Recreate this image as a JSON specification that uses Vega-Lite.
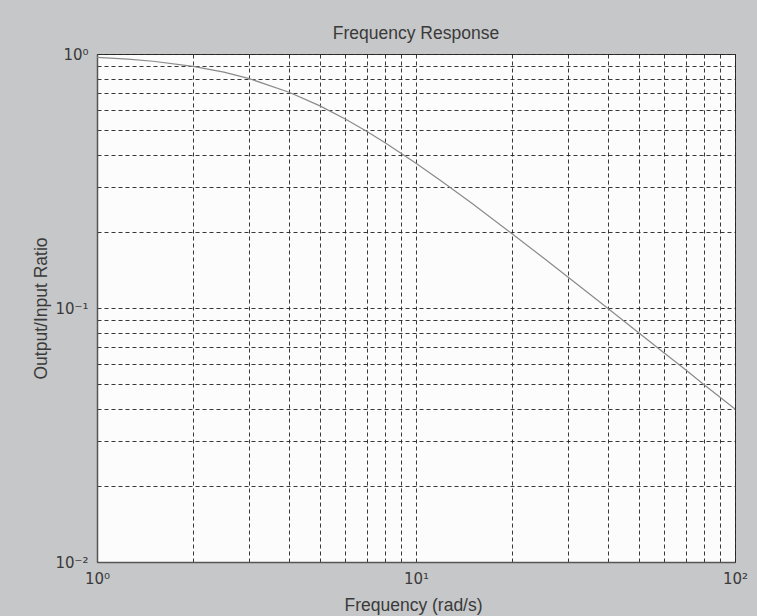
{
  "$schema": "https://vega.github.io/schema/vega-lite/v6.json",
  "width": 638,
  "height": 508,
  "autosize": {"type": "none"},
  "padding": {"left": 97, "top": 54, "right": 22, "bottom": 54},
  "background": "#c6c7c8",
  "config": {
    "font": "Liberation Sans",
    "view": {"fill": "#fcfcfc", "stroke": "#333333", "strokeWidth": 1}
  },
  "title": {
    "text": "Frequency Response",
    "fontSize": 17.5,
    "fontWeight": "normal",
    "color": "#3a3a3a",
    "anchor": "middle",
    "offset": 5
  },
  "data": {
    "values": [
      {"w": 1, "r": 0.970},
      {"w": 1.25, "r": 0.9545},
      {"w": 1.5, "r": 0.9363},
      {"w": 2, "r": 0.8944},
      {"w": 2.5, "r": 0.848},
      {"w": 3, "r": 0.8},
      {"w": 4, "r": 0.7071},
      {"w": 5, "r": 0.6247},
      {"w": 6, "r": 0.5547},
      {"w": 7, "r": 0.4961},
      {"w": 8, "r": 0.4472},
      {"w": 10, "r": 0.3714},
      {"w": 12, "r": 0.3162},
      {"w": 15, "r": 0.2577},
      {"w": 20, "r": 0.1961},
      {"w": 25, "r": 0.158},
      {"w": 30, "r": 0.1321},
      {"w": 40, "r": 0.0995},
      {"w": 50, "r": 0.0797},
      {"w": 60, "r": 0.0665},
      {"w": 70, "r": 0.0571},
      {"w": 80, "r": 0.0499},
      {"w": 90, "r": 0.0444},
      {"w": 100, "r": 0.04}
    ]
  },
  "mark": {"type": "line", "color": "#8a8a8a", "strokeWidth": 1.2, "clip": true},
  "encoding": {
    "x": {
      "field": "w",
      "type": "quantitative",
      "scale": {"type": "log", "domain": [1, 100], "nice": false},
      "axis": {
        "title": "Frequency (rad/s)",
        "titleFontSize": 17.5,
        "titleFontWeight": "normal",
        "titleColor": "#3a3a3a",
        "titleX": 316,
        "titleY": 43,
        "titleBaseline": "middle",
        "titleAlign": "center",
        "values": [1, 2, 3, 4, 5, 6, 7, 8, 9, 10, 20, 30, 40, 50, 60, 70, 80, 90, 100],
        "labelExpr": "datum.value == 1 ? '10⁰' : datum.value == 10 ? '10¹' : datum.value == 100 ? '10²' : ''",
        "labelFont": "DejaVu Sans",
        "labelFontSize": 15,
        "labelColor": "#3a3a3a",
        "labelPadding": 9,
        "labelFlush": false,
        "labelOverlap": false,
        "ticks": false,
        "domainColor": "#555555",
        "domainWidth": 1.5,
        "grid": true,
        "gridColor": "#222222",
        "gridDash": [4, 3],
        "gridWidth": 1,
        "gridOpacity": 0.9
      }
    },
    "y": {
      "field": "r",
      "type": "quantitative",
      "scale": {"type": "log", "domain": [0.01, 1], "nice": false},
      "axis": {
        "title": "Output/Input Ratio",
        "titleFontSize": 17.5,
        "titleFontWeight": "normal",
        "titleColor": "#3a3a3a",
        "titleX": -56,
        "titleY": 254,
        "titleAngle": -90,
        "titleBaseline": "middle",
        "titleAlign": "center",
        "values": [0.01, 0.02, 0.03, 0.04, 0.05, 0.06, 0.07, 0.08, 0.09, 0.1, 0.2, 0.3, 0.4, 0.5, 0.6, 0.7, 0.8, 0.9, 1],
        "labelExpr": "datum.value == 1 ? '10⁰' : abs(datum.value - 0.1) < 0.0001 ? '10⁻¹' : abs(datum.value - 0.01) < 0.00001 ? '10⁻²' : ''",
        "labelFont": "DejaVu Sans",
        "labelFontSize": 15,
        "labelColor": "#3a3a3a",
        "labelPadding": 9,
        "labelFlush": false,
        "labelOverlap": false,
        "ticks": false,
        "domainColor": "#555555",
        "domainWidth": 1.5,
        "grid": true,
        "gridColor": "#222222",
        "gridDash": [4, 3],
        "gridWidth": 1,
        "gridOpacity": 0.9
      }
    }
  }
}
